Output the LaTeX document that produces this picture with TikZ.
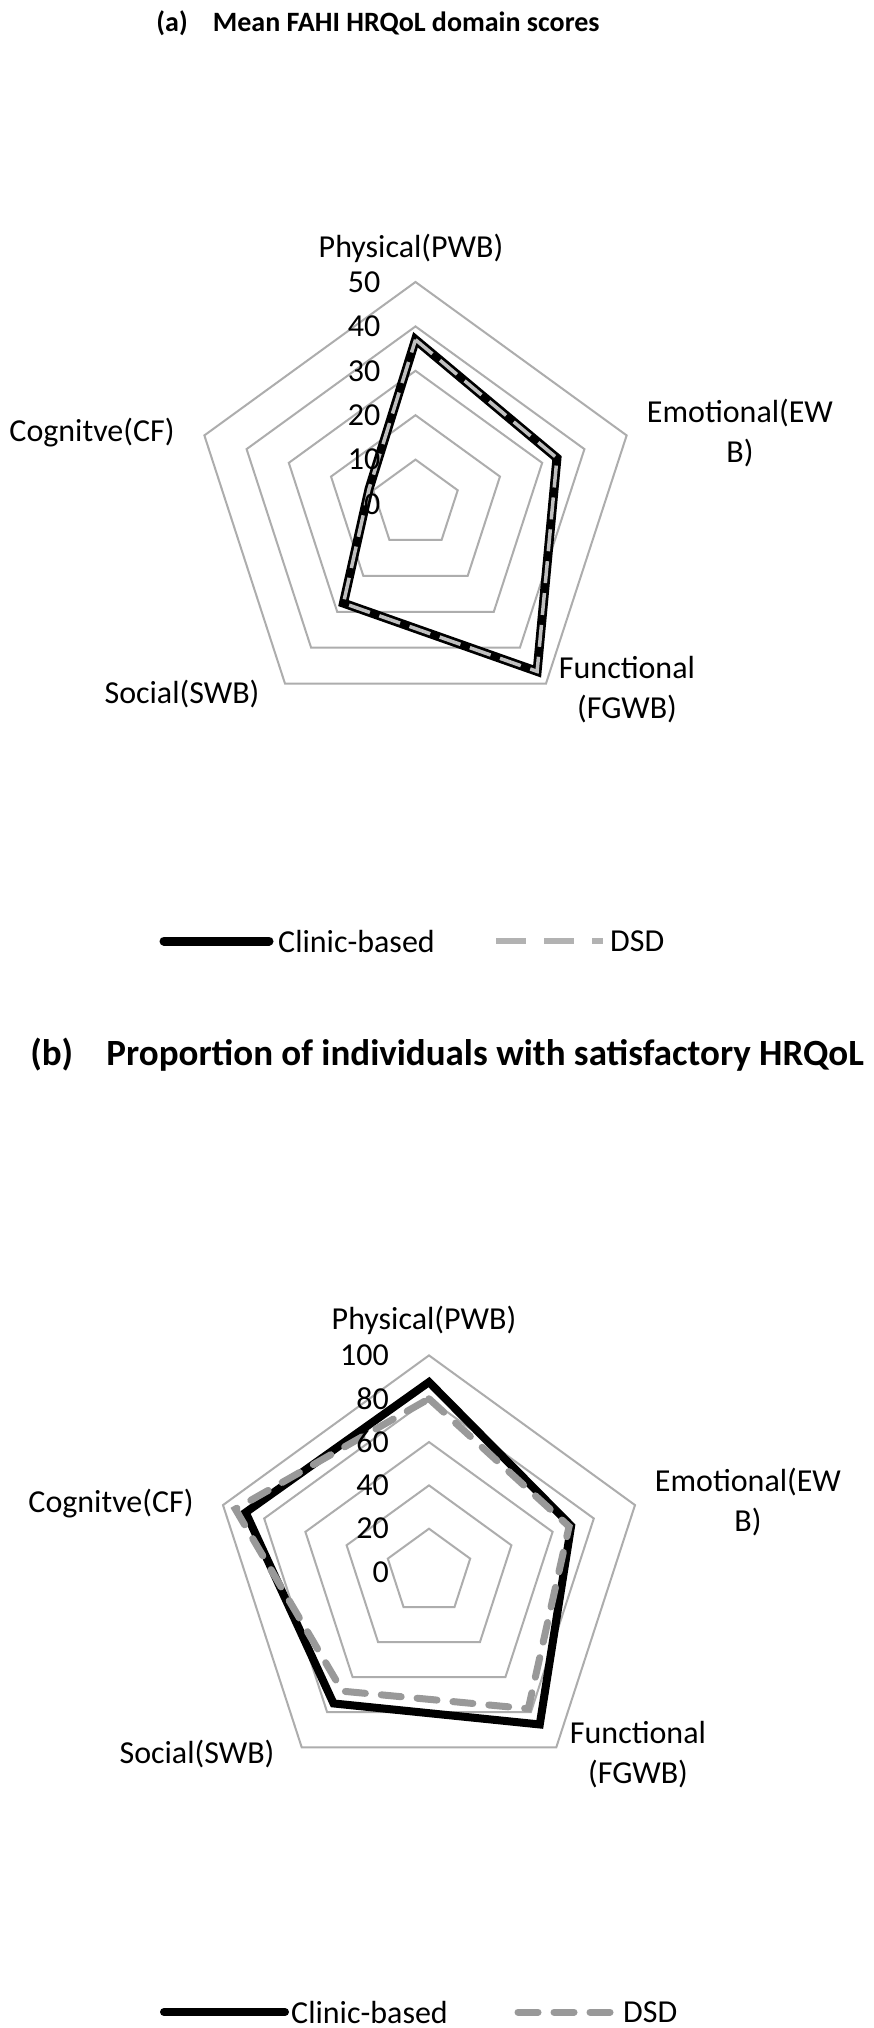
\documentclass[tikz,border=0pt]{standalone}
\usepackage{fontspec}
\setmainfont{Carlito}
\begin{document}
\begin{tikzpicture}[x=1pt,y=-1pt,
  ring/.style={draw=black!32,line width=2pt},
  clinic/.style={draw=black,line width=9pt,line join=miter},
  clinicB/.style={draw=black,line width=8pt,line join=miter},
  dsdA/.style={draw=black!25,line width=3.5pt,dash pattern=on 22pt off 10pt},
  dsdB/.style={draw=black!40,line width=7pt,line cap=round,dash pattern=on 20pt off 16pt},
  lab/.style={font=\fontsize{32}{40}\selectfont,align=center,inner sep=0pt},
  tick/.style={font=\fontsize{32}{38}\selectfont,anchor=east,inner sep=0pt},
  ttl/.style={font=\fontsize{28}{32}\selectfont\bfseries,inner sep=0pt},
  ttlB/.style={font=\fontsize{37}{42}\selectfont\bfseries,inner sep=0pt}]
\path[use as bounding box] (0,0) rectangle (873,2028);
\fill[white] (0,0) rectangle (873,2028);
% ---------- chart (a)
\def\cx{415.5}\def\cy{504}\def\R{222}
\foreach \k in {1,...,5}{
  \draw[ring] ({\cx+\k*\R/5*cos(90)},{\cy-\k*\R/5*sin(90)})
   \foreach \a in {18,-54,-126,162}{ -- ({\cx+\k*\R/5*cos(\a)},{\cy-\k*\R/5*sin(\a)})} -- cycle;}
\draw[clinic] ({\cx+37/50*\R*cos(90)},{\cy-37/50*\R*sin(90)})
  -- ({\cx+33.5/50*\R*cos(18)},{\cy-33.5/50*\R*sin(18)})
  -- ({\cx+46.6/50*\R*cos(-54)},{\cy-46.6/50*\R*sin(-54)})
  -- ({\cx+27.6/50*\R*cos(-126)},{\cy-27.6/50*\R*sin(-126)})
  -- ({\cx+11/50*\R*cos(162)},{\cy-11/50*\R*sin(162)}) -- cycle;
\draw[dsdA] ({\cx+37/50*\R*cos(90)},{\cy-37/50*\R*sin(90)})
  -- ({\cx+33.5/50*\R*cos(18)},{\cy-33.5/50*\R*sin(18)})
  -- ({\cx+46.6/50*\R*cos(-54)},{\cy-46.6/50*\R*sin(-54)})
  -- ({\cx+27.6/50*\R*cos(-126)},{\cy-27.6/50*\R*sin(-126)})
  -- ({\cx+11/50*\R*cos(162)},{\cy-11/50*\R*sin(162)}) -- cycle;
\foreach \v [count=\i from 0] in {0,10,20,30,40,50}
  \node[tick] (ta\i) at ({\cx-35},{\cy-\i*\R/5}) {\v};
\node[ttl] (titleA) at (378,23) {(a)\hspace{0.9em}Mean FAHI HRQoL domain scores};
\node[lab] (pa) at (411,248) {Physical(PWB)};
\node[lab] (ea) at (740,433) {Emotional(EW\\B)};
\node[lab] (fa) at (627,690) {Functional\\(FGWB)};
\node[lab] (sa) at (182,694) {Social(SWB)};
\node[lab] (ca) at (92,433) {Cognitve(CF)};
\coordinate (la1) at (164,941); \coordinate (la2) at (269,941);
\coordinate (la3) at (496,941); \coordinate (la4) at (603,941);
\draw[clinic,line cap=round] (la1) -- (la2);
\draw[draw=black!30,line width=6pt,dash pattern=on 30pt off 18pt] (la3) -- (la4);
\node[lab,anchor=west] (lca) at (278,941) {Clinic-based};
\node[lab,anchor=west] (lda) at (610,941) {DSD};
% ---------- chart (b)
\def\cx{429}\def\cy{1572}\def\R{216.6}
\foreach \k in {1,...,5}{
  \draw[ring] ({\cx+\k*\R/5*cos(90)},{\cy-\k*\R/5*sin(90)})
   \foreach \a in {18,-54,-126,162}{ -- ({\cx+\k*\R/5*cos(\a)},{\cy-\k*\R/5*sin(\a)})} -- cycle;}
\draw[clinicB] ({\cx+87.7/100*\R*cos(90)},{\cy-87.7/100*\R*sin(90)})
  -- ({\cx+69/100*\R*cos(18)},{\cy-69/100*\R*sin(18)})
  -- ({\cx+87/100*\R*cos(-54)},{\cy-87/100*\R*sin(-54)})
  -- ({\cx+75/100*\R*cos(-126)},{\cy-75/100*\R*sin(-126)})
  -- ({\cx+89/100*\R*cos(162)},{\cy-89/100*\R*sin(162)}) -- cycle;
\draw[dsdB] ({\cx+80/100*\R*cos(90)},{\cy-80/100*\R*sin(90)})
  -- ({\cx+68/100*\R*cos(18)},{\cy-68/100*\R*sin(18)})
  -- ({\cx+78/100*\R*cos(-54)},{\cy-78/100*\R*sin(-54)})
  -- ({\cx+68/100*\R*cos(-126)},{\cy-68/100*\R*sin(-126)})
  -- ({\cx+94/100*\R*cos(162)},{\cy-94/100*\R*sin(162)}) -- cycle;
\foreach \v [count=\i from 0] in {0,20,40,60,80,100}
  \node[tick] (tb\i) at ({\cx-40},{\cy-\i*\R/5}) {\v};
\node[ttlB] (titleB) at (447,1055) {(b)\hspace{0.9em}Proportion of individuals with satisfactory HRQoL};
\node[lab] (pb) at (424,1320) {Physical(PWB)};
\node[lab] (eb) at (748,1502) {Emotional(EW\\B)};
\node[lab] (fb) at (638,1755) {Functional\\(FGWB)};
\node[lab] (sb) at (197,1754) {Social(SWB)};
\node[lab] (cb) at (111,1504) {Cognitve(CF)};
\coordinate (lb1) at (164,2012); \coordinate (lb2) at (285,2012);
\coordinate (lb3) at (518,2012); \coordinate (lb4) at (615,2012);
\draw[clinicB,line cap=round] (lb1) -- (lb2);
\draw[dsdB] (lb3) -- (lb4);
\node[lab,anchor=west] (lcb) at (291,2012) {Clinic-based};
\node[lab,anchor=west] (ldb) at (623,2012) {DSD};
\end{tikzpicture}
\end{document}
